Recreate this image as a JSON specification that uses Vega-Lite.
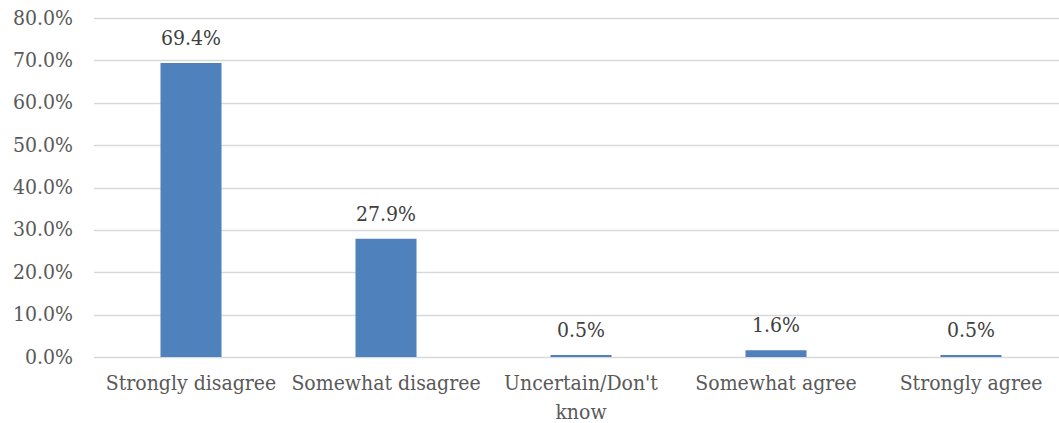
{
  "$schema": "https://vega.github.io/schema/vega-lite/v6.json",
  "autosize": "none",
  "width": 975,
  "height": 339,
  "padding": {"left": 93.5, "top": 18, "right": 0, "bottom": 66},
  "background": "white",
  "config": {"view": {"stroke": null}, "font": "DejaVu Serif Condensed"},
  "data": {"values": [
    {"category": "Strongly disagree", "value": 0.694},
    {"category": "Somewhat disagree", "value": 0.279},
    {"category": "Uncertain/Don't know", "value": 0.005},
    {"category": "Somewhat agree", "value": 0.016},
    {"category": "Strongly agree", "value": 0.005}
  ]},
  "encoding": {
    "x": {
      "field": "category", "type": "nominal", "sort": null,
      "scale": {"paddingInner": 0.687, "paddingOuter": 0.3435},
      "axis": {
        "title": null, "labelAngle": 0, "ticks": false, "domain": false,
        "labelFont": "DejaVu Serif Condensed", "labelFontSize": 21, "labelColor": "#595959",
        "labelPadding": 15, "labelLineHeight": 29, "labelLimit": 400, "labelOverlap": false,
        "labelExpr": "datum.value == \"Uncertain/Don't know\" ? [\"Uncertain/Don't\", \"know\"] : datum.value"
      }
    },
    "y": {
      "field": "value", "type": "quantitative",
      "scale": {"domain": [0, 0.8], "nice": false},
      "axis": {
        "title": null, "format": ".1%", "values": [0, 0.1, 0.2, 0.3, 0.4, 0.5, 0.6, 0.7, 0.8],
        "ticks": false, "domain": false, "grid": true, "gridColor": "#D9D9D9", "gridWidth": 1.5,
        "labelFont": "DejaVu Serif Condensed", "labelFontSize": 21, "labelColor": "#595959",
        "labelPadding": 21, "labelOverlap": false
      }
    }
  },
  "layer": [
    {"mark": {"type": "bar", "color": "#4F81BD"}},
    {
      "mark": {"type": "text", "baseline": "middle", "dy": -24, "font": "DejaVu Serif Condensed", "fontSize": 21, "color": "#404040"},
      "encoding": {"text": {"field": "value", "type": "quantitative", "format": ".1%"}}
    }
  ]
}
